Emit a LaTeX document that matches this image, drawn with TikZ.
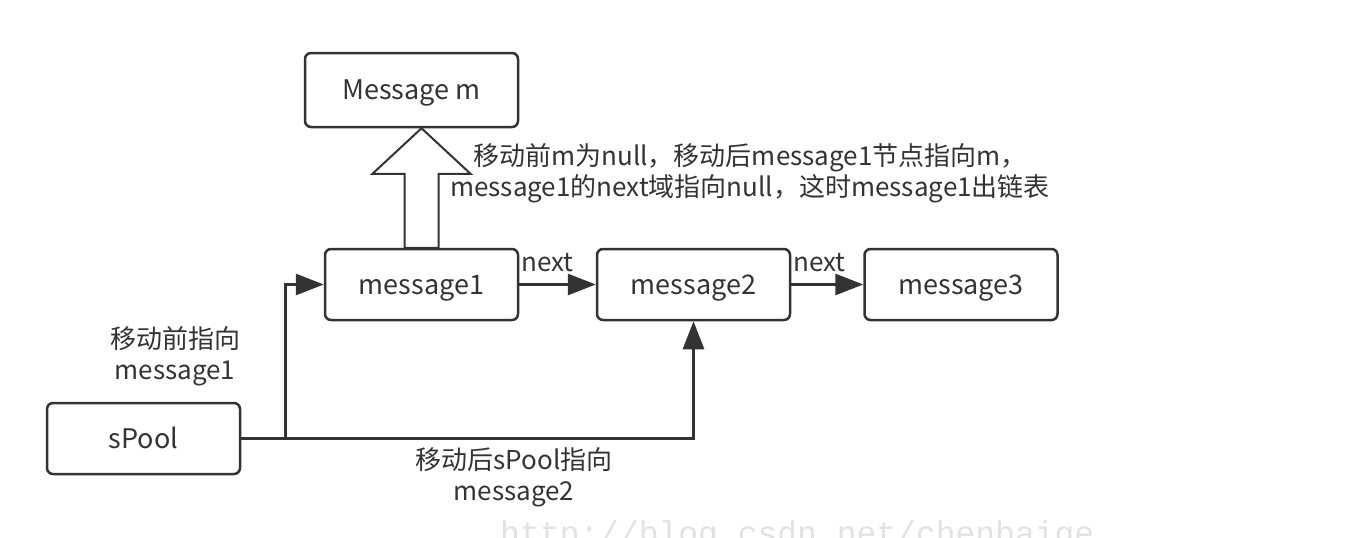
\documentclass[tikz,border=0pt]{standalone}
\usepackage{fontspec}
\setmainfont{Noto Sans CJK SC}
\newfontfamily\wmfont{Liberation Mono}
\usetikzlibrary{calc,arrows.meta}
\definecolor{ink}{HTML}{333333}
\definecolor{wmgray}{HTML}{E2E2E2}
\def\boxW{193}
\def\boxH{71}
\def\lineThickness{(2.5pt)}
\def\fScale{\fontsize{26}{31}\selectfont}
\def\bScale{\fontsize{27}{31}\selectfont}
\tikzset{msg/.style={draw=ink,line width=\lineThickness,rounded corners=6pt,minimum width=\boxW pt,minimum height=\boxH pt,inner sep=0,text height=19pt,text depth=0pt,text=ink,font=\bScale}}
\tikzset{lnk/.style={draw=ink,line width=3pt,-{Triangle[length=28pt,width=21pt]}}}
\tikzset{lbl/.style={text=ink,font=\fScale,align=center,inner sep=0}}

\begin{document}
\begin{tikzpicture}[x=1pt,y=-1pt]
\useasboundingbox (0,0) rectangle (1360,538);
% boxes
\node[msg,minimum width=213pt,minimum height=74pt] (mm) at (411.5,90) {Message m};
\node[msg] (m1) at (421.5,284.5) {message1};
\node[msg] (m2) at (693.5,284.5) {message2};
\node[msg] (m3) at (961,284.5) {message3};
\node[msg] (sp) at (143.5,438.5) {sPool};
% list links
\draw[lnk] (m1) -- (m2);
\draw[lnk] (m2) -- (m3);
\node[lbl,anchor=base west] (n1) at ($(m1.east)+(2,-13)$) {next};
\node[lbl,anchor=base west] (n2) at ($(m2.east)+(2,-13)$) {next};
% sPool before/after
\coordinate (j) at ($(sp.east)+(44,0)$);
\draw[ink,line width=3pt] (sp.east) -- (j);
\draw[lnk] (j) |- (m1.west);
\draw[lnk] (j) -| (m2.south);
% hollow arrow m1 -> m
\draw[ink,line width=2pt,fill=white,line join=miter] ($(m1.north)+(-17,0)$) -- ++(0,-74) -- ++(-32,0) -- (m1.north |- mm.south) -- ($(m1.north)+(49,-74)$) -- ++(-32,0) -- ($(m1.north)+(17,0)$) -- cycle;
% texts
\node[lbl] (before) at (175,356) {移动前指向\\message1};
\node[lbl] (after) at (514,477) {移动后sPool指向\\message2};
\node[lbl] (note) at (750,173) {移动前m为null，移动后message1节点指向m，\\message1的next域指向null，这时message1出链表};
\node[text=wmgray,font=\wmfont\fontsize{33}{33}\selectfont,anchor=base west,inner sep=0] (wm) at (500,544) {http://blog.csdn.net/chenbaige};
\end{tikzpicture}
\end{document}
